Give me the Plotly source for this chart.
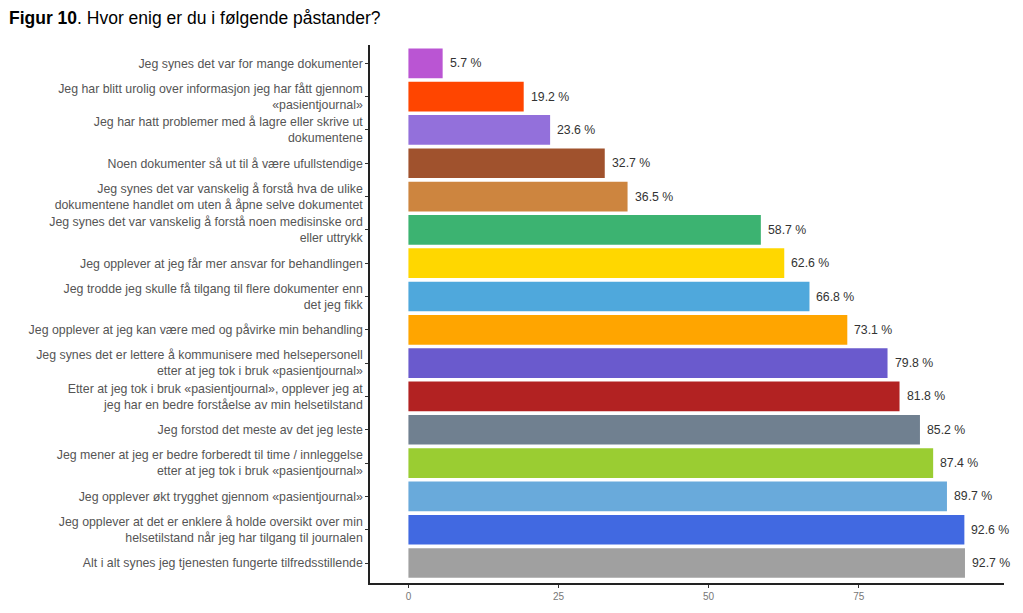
import plotly.graph_objects as go

statements = [
    "Jeg synes det var for mange dokumenter",
    "Jeg har blitt urolig over informasjon jeg har fått gjennom<br>«pasientjournal»",
    "Jeg har hatt problemer med å lagre eller skrive ut<br>dokumentene",
    "Noen dokumenter så ut til å være ufullstendige",
    "Jeg synes det var vanskelig å forstå hva de ulike<br>dokumentene handlet om uten å åpne selve dokumentet",
    "Jeg synes det var vanskelig å forstå noen medisinske ord<br>eller uttrykk",
    "Jeg opplever at jeg får mer ansvar for behandlingen",
    "Jeg trodde jeg skulle få tilgang til flere dokumenter enn<br>det jeg fikk",
    "Jeg opplever at jeg kan være med og påvirke min behandling",
    "Jeg synes det er lettere å kommunisere med helsepersonell<br>etter at jeg tok i bruk «pasientjournal»",
    "Etter at jeg tok i bruk «pasientjournal», opplever jeg at<br>jeg har en bedre forståelse av min helsetilstand",
    "Jeg forstod det meste av det jeg leste",
    "Jeg mener at jeg er bedre forberedt til time / innleggelse<br>etter at jeg tok i bruk «pasientjournal»",
    "Jeg opplever økt trygghet gjennom «pasientjournal»",
    "Jeg opplever at det er enklere å holde oversikt over min<br>helsetilstand når jeg har tilgang til journalen",
    "Alt i alt synes jeg tjenesten fungerte tilfredsstillende",
]
values = [5.7, 19.2, 23.6, 32.7, 36.5, 58.7, 62.6, 66.8, 73.1, 79.8, 81.8, 85.2, 87.4, 89.7, 92.6, 92.7]
colors = ["#BA55D3", "#FF4500", "#9370DB", "#A0522D", "#CD853F", "#3CB371", "#FFD700", "#4FA8DC",
          "#FFA500", "#6A5ACD", "#B22222", "#708090", "#9ACD32", "#69AADB", "#4169E1", "#A0A0A0"]
x_ticks = [0, 25, 50, 75]

FONT = "Liberation Sans, Arial"

fig = go.Figure(go.Bar(
    x=values, y=statements, orientation="h",
    marker=dict(color=colors, line=dict(width=0)),
    width=0.89,
    hoverinfo="x+y",
))

annotations = [dict(
    x=v, y=s, xref="x", yref="y", text=f"{v} %", showarrow=False,
    xanchor="left", xshift=5, font=dict(family=FONT, size=12.3, color="#333333"),
) for s, v in zip(statements, values)]

annotations.append(dict(
    text="<b>Figur 10</b>. Hvor enig er du i følgende påstander?",
    xref="paper", yref="paper", x=0, y=1, xanchor="left", yanchor="middle",
    showarrow=False, font=dict(family=FONT, size=17.5, color="black"),
    xshift=-363, yshift=27,
))

fig.update_layout(
    width=1015, height=605,
    margin=dict(l=362, r=19, t=37, b=30, autoexpand=False),
    paper_bgcolor="white", plot_bgcolor="white",
    showlegend=False,
    font=dict(family=FONT, color="#4d4d4d"),
    annotations=annotations,
)
fig.update_xaxes(
    range=[-6.4, 99.2], tickvals=x_ticks, ticks="outside", ticklen=3, tickcolor="#333333",
    showgrid=False, zeroline=False, showline=True, linecolor="#222222", linewidth=1.5,
    tickfont=dict(size=10, color="#777777"), automargin=False,
)
fig.update_yaxes(
    type="category", categoryorder="array", categoryarray=statements,
    range=[15.6, -0.55], ticks="outside", ticklen=3, tickcolor="#333333",
    showgrid=False, zeroline=False, showline=True, linecolor="#222222", linewidth=1.5,
    tickfont=dict(size=12.35, color="#555555"), automargin=False,
)

fig.write_html("out.html")
